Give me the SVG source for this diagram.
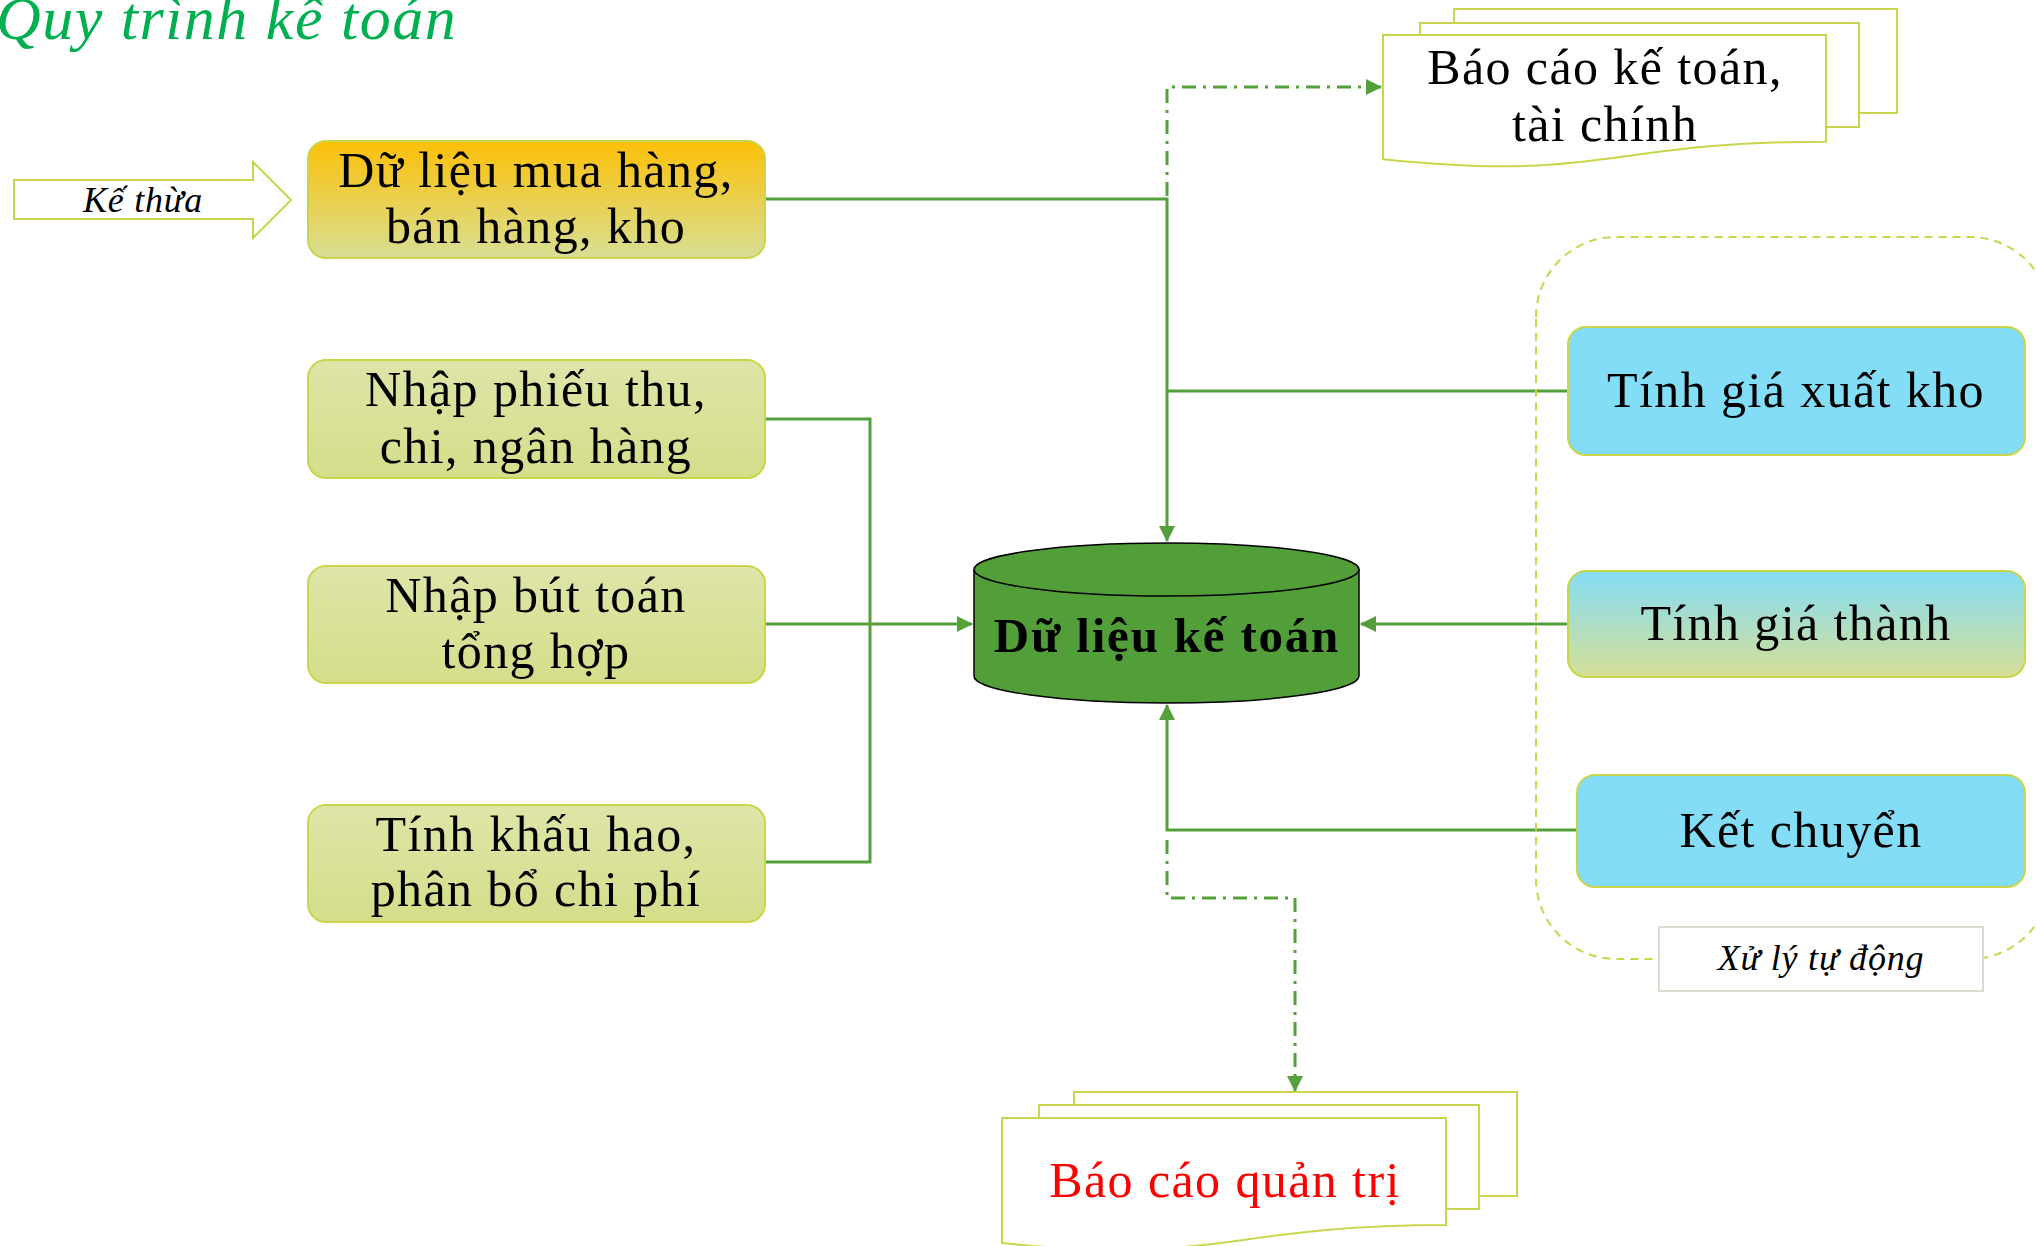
<svg xmlns="http://www.w3.org/2000/svg" width="2036" height="1246" viewBox="0 0 2036 1246">
<style>
.t{font-family:"Liberation Serif","DejaVu Serif",serif;fill:#000;text-anchor:middle}
.n{font-size:50px;letter-spacing:1.4px}
.it{font-style:italic;font-size:36px;letter-spacing:0.8px}
.box{stroke:#C9D64B;stroke-width:2}
.con{fill:none;stroke:#55A03B;stroke-width:3}
.dd{fill:none;stroke:#55A03B;stroke-width:3;stroke-dasharray:14 7 3 7}
.doc{fill:#fff;stroke:#C9D64B;stroke-width:2}
</style>
<defs>
<linearGradient id="gOrange" x1="0" y1="0" x2="0" y2="1"><stop offset="0" stop-color="#FCC008"/><stop offset="1" stop-color="#D8DF95"/></linearGradient>
<linearGradient id="gGreen" x1="0" y1="0" x2="0" y2="1"><stop offset="0" stop-color="#DEE5A8"/><stop offset="1" stop-color="#D4DE8A"/></linearGradient>
<linearGradient id="gCyan" x1="0" y1="0" x2="0" y2="1"><stop offset="0" stop-color="#84DDF7"/><stop offset="1" stop-color="#D6DF96"/></linearGradient>
<marker id="arr" markerUnits="userSpaceOnUse" markerWidth="16" markerHeight="16" refX="15" refY="8" orient="auto"><path d="M0,0 L16,8 L0,16 Z" fill="#55A03B"/></marker>
</defs>

<text x="-4" y="39" font-family="Liberation Serif, serif" font-style="italic" font-size="62" letter-spacing="1.5" fill="#00B050">Quy trình kế toán</text>

<g id="ke-thua">
<polygon points="14,180 253,180 253,162 291,200 253,238 253,219 14,219" fill="#fff" class="box"/>
<text class="t it" x="143" y="212">Kế thừa</text>
</g>

<g id="connectors">
<path class="con" d="M765,199 H1167 V541" marker-end="url(#arr)"/>
<path class="con" d="M1568,391 H1167"/>
<path class="con" d="M765,419 H870 V862 H765"/>
<path class="con" d="M765,624 H972" marker-end="url(#arr)"/>
<path class="con" d="M1568,624 H1361" marker-end="url(#arr)"/>
<path class="con" d="M1577,830 H1167 V705" marker-end="url(#arr)"/>
<path class="dd" d="M1167,196 V87 H1381" marker-end="url(#arr)"/>
<path class="dd" d="M1167,840 V898 H1295 V1091" marker-end="url(#arr)"/>
</g>

<g id="node-du-lieu-mua-hang">
<rect x="308" y="141" width="457" height="117" rx="18" fill="url(#gOrange)" class="box"/>
<text class="t n" x="536" y="187">Dữ liệu mua hàng,</text>
<text class="t n" x="536" y="243">bán hàng, kho</text>
</g>

<g id="node-nhap-phieu-thu">
<rect x="308" y="360" width="457" height="118" rx="18" fill="url(#gGreen)" class="box"/>
<text class="t n" x="536" y="406">Nhập phiếu thu,</text>
<text class="t n" x="536" y="463">chi, ngân hàng</text>
</g>

<g id="node-nhap-but-toan">
<rect x="308" y="566" width="457" height="117" rx="18" fill="url(#gGreen)" class="box"/>
<text class="t n" x="536" y="612">Nhập bút toán</text>
<text class="t n" x="536" y="668">tổng hợp</text>
</g>

<g id="node-tinh-khau-hao">
<rect x="308" y="805" width="457" height="117" rx="18" fill="url(#gGreen)" class="box"/>
<text class="t n" x="536" y="851">Tính khấu hao,</text>
<text class="t n" x="536" y="906">phân bổ chi phí</text>
</g>

<g id="node-du-lieu-ke-toan">
<path d="M974,569.5 A192.5,26.5 0 0 1 1359,569.5 V676 A192.5,27 0 0 1 974,676 Z" fill="#529F3A" stroke="#000" stroke-width="1.5"/>
<path d="M974,569.5 A192.5,26.5 0 0 0 1359,569.5" fill="none" stroke="#000" stroke-width="1.5"/>
<text class="t" x="1167" y="652" font-size="49" font-weight="bold" letter-spacing="1.8">Dữ liệu kế toán</text>
</g>

<g id="node-bao-cao-ke-toan">
<rect x="1454" y="9" width="443" height="104" class="doc"/>
<rect x="1420" y="23" width="439" height="104" class="doc"/>
<path d="M1383,35 H1826 V141.7 C1604.5,141.7 1604.5,182.3 1383,159.2 Z" class="doc"/>
<text class="t n" x="1605" y="84">Báo cáo kế toán,</text>
<text class="t n" x="1605" y="141">tài chính</text>
</g>

<g id="group-xu-ly-tu-dong">
<path d="M1536,317 A80,80 0 0 1 1616,237 H1970 A80,80 0 0 1 2050,317 V879 A80,80 0 0 1 1970,959 H1616 A80,80 0 0 1 1536,879 Z" fill="none" stroke="#C9D64B" stroke-width="2" stroke-dasharray="8 6"/>
</g>

<g id="node-tinh-gia-xuat-kho">
<rect x="1568" y="327" width="457" height="128" rx="18" fill="#84DDF7" class="box"/>
<text class="t n" x="1796" y="407">Tính giá xuất kho</text>
</g>

<g id="node-tinh-gia-thanh">
<rect x="1568" y="571" width="457" height="106" rx="18" fill="url(#gCyan)" class="box"/>
<text class="t n" x="1796" y="640">Tính giá thành</text>
</g>

<g id="node-ket-chuyen">
<rect x="1577" y="775" width="448" height="112" rx="18" fill="#84DDF7" class="box"/>
<text class="t n" x="1801" y="847">Kết chuyển</text>
</g>

<g id="label-xu-ly-tu-dong">
<rect x="1659" y="927" width="324" height="64" fill="#fff" stroke="#DEDAD0" stroke-width="2"/>
<text class="t it" x="1821" y="970">Xử lý tự động</text>
</g>

<g id="node-bao-cao-quan-tri">
<rect x="1074" y="1092" width="443" height="104" class="doc"/>
<rect x="1039" y="1105" width="440" height="104" class="doc"/>
<path d="M1002,1118 H1446 V1225 C1224,1225 1224,1266 1002,1243 Z" class="doc"/>
<text class="t n" x="1225" y="1197" style="fill:#FF0000">Báo cáo quản trị</text>
</g>
</svg>
